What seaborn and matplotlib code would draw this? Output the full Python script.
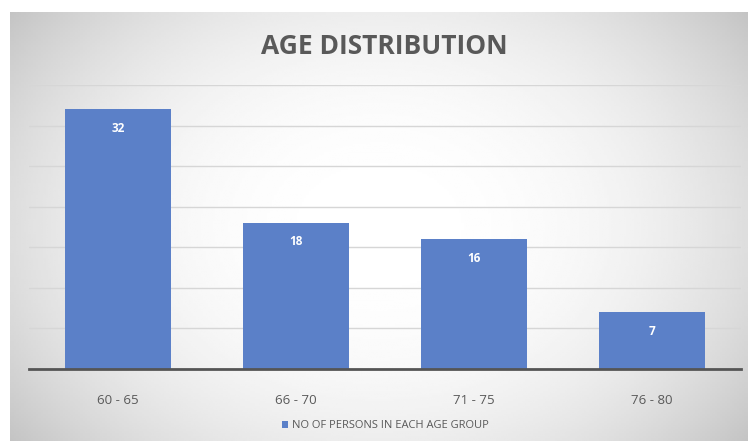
import numpy as np
import pandas as pd
import matplotlib
matplotlib.use("Agg")
import matplotlib.pyplot as plt
import seaborn as sns

categories = ["60 - 65", "66 - 70", "71 - 75", "76 - 80"]
values = [32, 18, 16, 7]
series_name = "NO OF PERSONS IN EACH AGE GROUP"
title = "AGE DISTRIBUTION"

df = pd.DataFrame({"group": categories, "count": values})

sns.set_theme(style="white")
plt.rcParams['font.family'] = ['Open Sans', 'DejaVu Sans']

W, H = 748, 441
fig = plt.figure(figsize=(W / 100, H / 100), dpi=100)
fig.patch.set_facecolor("white")

# background gradient panel
bg = fig.add_axes([10 / W, 0, (W - 10) / W, (H - 12) / H])
yy, xx = np.mgrid[0:1:200j, 0:1:300j]
r = np.sqrt(((xx - 0.5) / 0.62) ** 2 + ((yy - 0.5) / 0.8) ** 2)
shade = np.clip(1.0 - 0.22 * r ** 2.4, 0.74, 1.0)
bg.imshow(shade, cmap="gray", vmin=0, vmax=1, aspect="auto", extent=[0, 1, 0, 1], interpolation="bilinear")
bg.set_axis_off()

ax = fig.add_axes([29 / W, (H - 369) / H, (741 - 29) / W, (369 - 85) / H])
ax.patch.set_alpha(0)
sns.barplot(data=df, x="group", y="count", color="#5B80C8", width=0.6, ax=ax,
            saturation=1, label=series_name, linewidth=0)
ax.set_ylim(0, 35)
ax.set_xlim(-0.5, 3.5)
ax.set_yticks(np.arange(0, 36, 5))
ax.yaxis.grid(True, color="#d6d6d6", linewidth=1)
ax.set_axisbelow(True)
ax.tick_params(axis="y", left=False, labelleft=False)
ax.tick_params(axis="x", bottom=False, colors="#595959", labelsize=9.5, pad=12)
for s in ["top", "right", "left"]:
    ax.spines[s].set_visible(False)
ax.spines["bottom"].set_color("#555555")
ax.spines["bottom"].set_linewidth(2)
ax.set_xlabel("")
ax.set_ylabel("")

for i, v in enumerate(values):
    ax.annotate(str(v), (i, v), xytext=(0, -19), textcoords="offset pixels",
                ha="center", va="center", color="white", fontsize=8.5, fontweight="bold")

fig.text(384 / W, 1 - 46 / H, title, ha="center", va="center", fontsize=19,
         fontweight="bold", color="#595959")

leg = ax.legend(loc="center", bbox_to_anchor=(0.5, -0.20), frameon=False, fontsize=8,
                handlelength=0.6, handleheight=0.6, handletextpad=0.3, labelcolor="#595959")

fig.savefig("out.png", dpi=100)
